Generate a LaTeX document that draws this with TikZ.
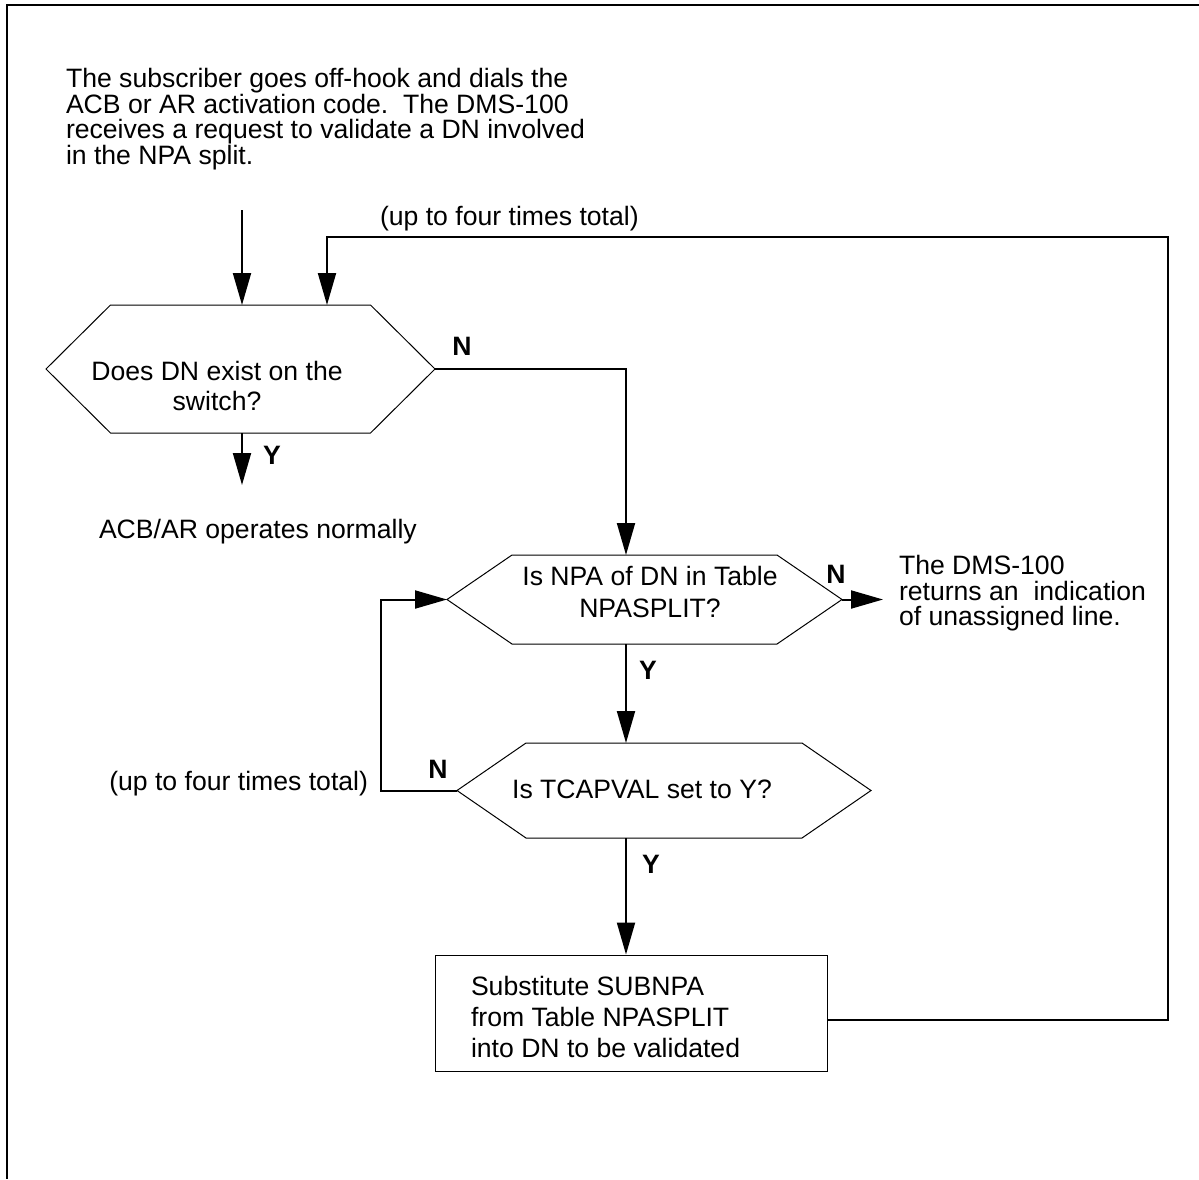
\documentclass[tikz,border=0pt]{standalone}
\usepackage{fontspec}
\setmainfont{Liberation Sans}
\usetikzlibrary{arrows.meta}

% hexagonal decision box: name, centre x, centre y, half flat width, tip length, half height
\newcommand\decisionhex[6]{%
  \coordinate (#1) at (#2,#3);
  \coordinate (#1-w) at (#2-#4-#5,#3);
  \coordinate (#1-e) at (#2+#4+#5,#3);
  \coordinate (#1-n) at (#2,#3-#6);
  \coordinate (#1-s) at (#2,#3+#6);
  \draw[shapeline] (#1-w) -- (#2-#4,#3-#6) -- (#2+#4,#3-#6) -- (#1-e)
    -- (#2+#4,#3+#6) -- (#2-#4,#3+#6) -- cycle;
}

\tikzset{
  shapeline/.style={line width=0.5pt, line join=miter},
  frameline/.style={line width=0.9pt},
  flow/.style={line width=1pt, -{Triangle[length=16pt,width=9pt]}},
  txt/.style={inner sep=0pt, outer sep=0pt},
  lbl/.style={inner sep=0pt, anchor=base, font=\fontsize{13.3pt}{15pt}\selectfont\bfseries},
}

\begin{document}
\begin{tikzpicture}[x=0.5pt, y=-0.5pt]
\useasboundingbox (0,0) rectangle (1199,1179);

% page frame (top and left edges only)
\draw[frameline] (1199,5) -- (7,5) -- (7,1179);

% opening description
\node[txt, anchor=north west, align=left, font=\fontsize{13.3pt}{12.9pt}\selectfont] (intro) at (66,68)
  {The subscriber goes off-hook and dials the\\
   ACB or AR activation code.\ \ The DMS-100\\
   receives a request to validate a DN involved\\
   in the NPA split.};

% decisions
\decisionhex{h1}{240.5}{369}{130}{64.5}{64}
\node[txt, anchor=north, align=center, font=\fontsize{13.3pt}{15pt}\selectfont] (q1) at (217,361)
  {Does DN exist on the\\switch?};

\decisionhex{h2}{644.5}{599.5}{132.5}{65}{44.5}
\node[txt, anchor=north, align=center, font=\fontsize{13.3pt}{16pt}\selectfont] (q2) at (650,566)
  {Is NPA of DN in Table\\NPASPLIT?};

\decisionhex{h3}{664}{790.5}{138}{69}{47.5}
\node[txt, anchor=base, font=\fontsize{13.3pt}{15pt}\selectfont] (q3) at (642,798)
  {Is TCAPVAL set to Y?};

% substitution step
\node[draw, shapeline, minimum width=196pt, minimum height=58pt, inner sep=0pt] (act) at (631,1013) {};
\node[txt, anchor=north west, align=left, font=\fontsize{13.3pt}{15.5pt}\selectfont] (acttext) at (471,976)
  {Substitute SUBNPA\\from Table NPASPLIT\\into DN to be validated};

% outcomes and notes
\node[txt, anchor=base west, font=\fontsize{13.3pt}{15pt}\selectfont] (normal) at (99,538)
  {ACB/AR operates normally};
\node[txt, anchor=north west, align=left, font=\fontsize{13.3pt}{12.9pt}\selectfont] (unassigned) at (899,555)
  {The DMS-100\\returns an\ \ indication\\of unassigned line.};
\node[txt, anchor=base west, font=\fontsize{13.3pt}{15pt}\selectfont] (looptop) at (380,225)
  {(up to four times total)};
\node[txt, anchor=base east, font=\fontsize{13.3pt}{15pt}\selectfont] (loopleft) at (368,790)
  {(up to four times total)};

% branch labels
\node[lbl] (n1) at (462,355) {N};
\node[lbl] (y1) at (272,464) {Y};
\node[lbl] (n2) at (836,583) {N};
\node[lbl] (y2) at (648,679) {Y};
\node[lbl] (n3) at (438,778) {N};
\node[lbl] (y3) at (651,873) {Y};

% connector reference points
\coordinate (c-intro) at (242,210);
\coordinate (c-normal) at (242,485);
\coordinate (c-unassigned) at (883,599.5);
\coordinate (spine) at (626,0);
\coordinate (loop-ne) at (1168,237);
\coordinate (loop-nw) at (327,237);
\coordinate (c-left) at (381,0);

% connectors
\draw[flow] (c-intro) -- (c-intro |- h1-n);
\draw[flow] (c-normal |- h1-s) -- (c-normal);
\draw[flow] (h1-e) -- (h1-e -| spine) -- (spine |- h2-n);
\draw[flow] (h2-e) -- (c-unassigned);
\draw[flow] (spine |- h2-s) -- (spine |- h3-n);
\draw[flow] (h3-w) -- (h3-w -| c-left) |- (h2-w);
\draw[flow] (spine |- h3-s) -- (spine |- act.north);
\draw[flow] ([yshift=-3.5pt]act.east) -- ([yshift=-3.5pt]act.east -| loop-ne) -- (loop-ne)
  -- (loop-nw) -- (loop-nw |- h1-n);
\end{tikzpicture}
\end{document}
